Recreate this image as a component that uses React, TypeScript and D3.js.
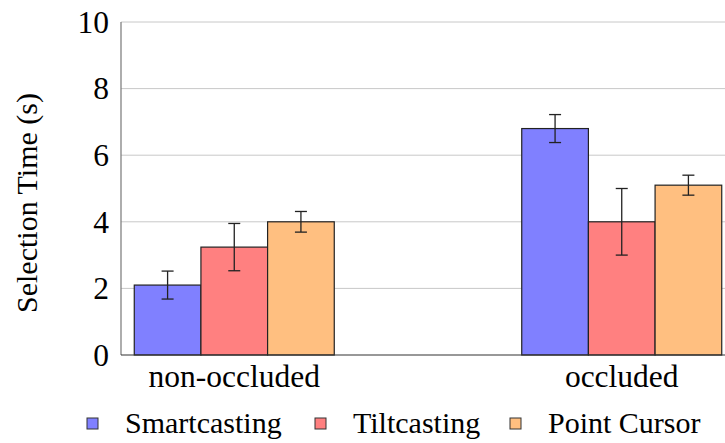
import * as d3 from "d3";

const categories = ["non-occluded", "occluded"];
const series = ["Smartcasting", "Tiltcasting", "Point Cursor"];
const means = [
  [2.1, 6.8],
  [3.24, 4.0],
  [4.0, 5.1],
];
const errors = [
  [0.42, 0.42],
  [0.71, 1.0],
  [0.31, 0.3],
];
const yTicks = [0, 2, 4, 6, 8, 10];
const fills = ["#8080ff", "#ff8080", "#ffbf80"];

const W = 725;
const H = 443;
const family = "'Liberation Serif', 'Times New Roman', Times, 'DejaVu Serif', serif";
const txt = { fontFamily: family, fontSize: "30px" };
const big = { fontFamily: family, fontSize: "31.5px" };

export default function App() {
  const y = d3.scaleLinear().domain([0, 10]).range([355, 22]);
  const x = d3.scalePoint<string>().domain(categories).range([121, 735]).padding(0.2923);
  const inner = d3.scaleBand<string>().domain(series).range([-100, 100]);
  const bw = inner.bandwidth();

  const legendX = [87, 315, 510];

  return (
    <svg width={W} height={H} style={{ position: "absolute", left: 0, top: 0, background: "#fff" }}>
      {/* grid */}
      {yTicks.filter(t => t > 0).map(t => (
        <line key={t} x1={121} x2={W} y1={y(t)} y2={y(t)} stroke="#c8c8c8" strokeWidth={1} />
      ))}
      {/* bars */}
      {series.map((s, si) =>
        categories.map((c, ci) => {
          const x0 = (x(c) as number) + (inner(s) as number);
          const v = means[si][ci];
          return (
            <rect key={s + c} x={x0} y={y(v)} width={bw} height={y(0) - y(v)}
              fill={fills[si]} stroke="#222" strokeWidth={1.2} />
          );
        })
      )}
      {/* error bars */}
      {series.map((s, si) =>
        categories.map((c, ci) => {
          const cx = (x(c) as number) + (inner(s) as number) + bw / 2;
          const v = means[si][ci];
          const e = errors[si][ci];
          return (
            <g key={"e" + s + c} stroke="#222" strokeWidth={1.3}>
              <line x1={cx} x2={cx} y1={y(v + e)} y2={y(v - e)} />
              <line x1={cx - 6} x2={cx + 6} y1={y(v + e)} y2={y(v + e)} />
              <line x1={cx - 6} x2={cx + 6} y1={y(v - e)} y2={y(v - e)} />
            </g>
          );
        })
      )}
      {/* axes */}
      <line x1={121} x2={121} y1={22} y2={355} stroke="#777" strokeWidth={1.2} />
      <line x1={121} x2={W} y1={355} y2={355} stroke="#333" strokeWidth={1.2} />
      {yTicks.map(t => (
        <text key={"t" + t} x={109} y={y(t)} dy="0.34em" textAnchor="end" style={big} fill="#000">{t}</text>
      ))}
      {categories.map(c => (
        <text key={"c" + c} x={x(c) as number} y={387} textAnchor="middle" style={big} fill="#000">{c}</text>
      ))}
      <text transform="translate(37,203) rotate(-90)" textAnchor="middle" style={txt} fill="#000">Selection Time (s)</text>
      {/* legend */}
      {series.map((s, si) => (
        <g key={"l" + s}>
          <rect x={legendX[si]} y={418} width={11} height={11} fill={fills[si]} stroke="#333" strokeWidth={1} />
          <text x={legendX[si] + 38} y={433} style={txt} fill="#000">{s}</text>
        </g>
      ))}
    </svg>
  );
}
